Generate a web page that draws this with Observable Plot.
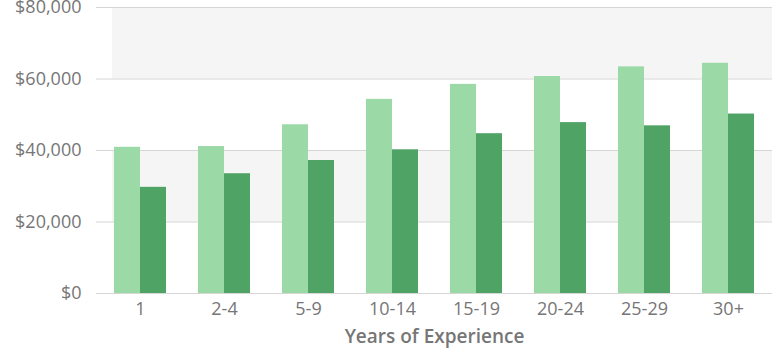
<!DOCTYPE html>
<html>
<head>
<meta charset="utf-8">
<script src="https://cdn.jsdelivr.net/npm/d3@7"></script>
<script src="https://cdn.jsdelivr.net/npm/@observablehq/plot@0.6"></script>
<style>
  html, body { margin: 0; padding: 0; background: #fff; }
  #chart svg { display: block; overflow: visible; }
</style>
</head>
<body>
<div id="chart"></div>
<script>
const categories = ["1", "2-4", "5-9", "10-14", "15-19", "20-24", "25-29", "30+"];
const seriesA = [40900, 41100, 47200, 54300, 58500, 60700, 63400, 64400];
const seriesB = [29700, 33500, 37200, 40200, 44700, 47800, 46900, 50200];
const yTicks = [0, 20000, 40000, 60000, 80000];
const shadedBands = [[20000, 40000], [60000, 80000]];
const xTitle = "Years of Experience";

const dataA = categories.map((c, i) => ({cat: c, value: seriesA[i]}));
const dataB = categories.map((c, i) => ({cat: c, value: seriesB[i]}));
const bands = shadedBands.map(([a, b]) => ({y1: a, y2: b}));

const fontFamily = "'Open Sans', 'Noto Sans', sans-serif";
const textColor = "#767676";

const chart = Plot.plot({
  width: 781,
  height: 360,
  marginLeft: 96,
  marginRight: 9,
  marginTop: 7,
  marginBottom: 67,
  style: {fontFamily, fontSize: "18px", color: textColor, background: "#fff"},
  x: {type: "band", domain: categories, paddingInner: 0.384, paddingOuter: 0.19, axis: null},
  y: {domain: [0, 80000], axis: null},
  marks: [
    Plot.rectY(bands, {y1: "y1", y2: "y2", fill: "#f5f5f5", insetLeft: 16}),
    Plot.ruleY(yTicks, {stroke: "#d6d6d6", strokeWidth: 1}),
    Plot.barY(dataA, {x: "cat", y: "value", fill: "#9bd9a7", insetRight: 26}),
    Plot.barY(dataB, {x: "cat", y: "value", fill: "#4fa364", insetLeft: 26}),
    Plot.axisY({ticks: yTicks, tickSize: 0, tickPadding: 15, tickFormat: d3.format("$,"), label: null, fill: textColor, fontSize: 18, fontWeight: 500}),
    Plot.axisX({tickSize: 0, tickPadding: 9, label: null, fill: textColor, fontSize: 18, fontWeight: 500}),
    Plot.text([xTitle], {text: d => d, frameAnchor: "bottom", dy: 49, fill: textColor, fontSize: 19, fontWeight: 600})
  ]
});
document.getElementById("chart").appendChild(chart);
</script>
</body>
</html>
